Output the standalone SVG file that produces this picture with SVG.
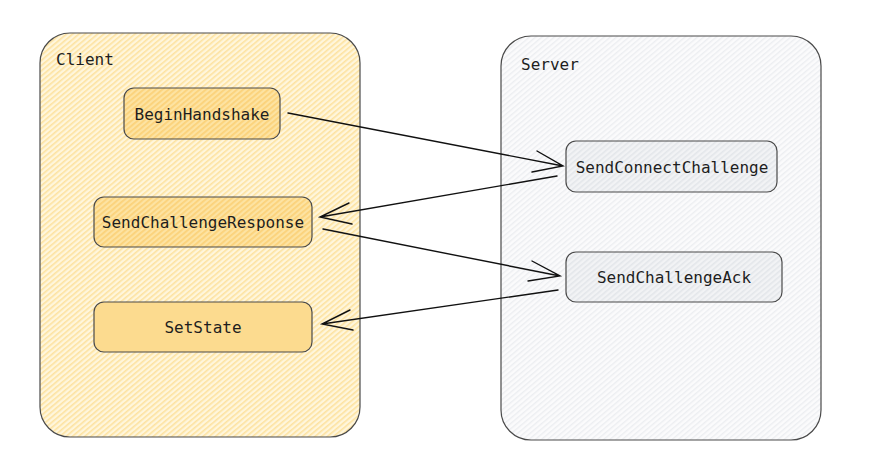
<svg xmlns="http://www.w3.org/2000/svg" width="872" height="470" viewBox="0 0 872 470">
<defs>
<pattern id="hY" width="4" height="4" patternUnits="userSpaceOnUse" patternTransform="rotate(-40)">
<rect width="4" height="4" fill="#fff6dc"/>
<rect width="4" height="1.6" fill="#fde2a0"/>
</pattern>
<pattern id="hY2" width="4" height="4" patternUnits="userSpaceOnUse" patternTransform="rotate(-40)">
<rect width="4" height="4" fill="#fde3a2"/>
<rect width="4" height="1.8" fill="#fbd27a"/>
</pattern>
<pattern id="hG" width="4" height="4" patternUnits="userSpaceOnUse" patternTransform="rotate(-40)">
<rect width="4" height="4" fill="#fbfbfc"/>
<rect width="4" height="1.4" fill="#eceef1"/>
</pattern>
<pattern id="hG2" width="4" height="4" patternUnits="userSpaceOnUse" patternTransform="rotate(-40)">
<rect width="4" height="4" fill="#f2f3f5"/>
<rect width="4" height="1.6" fill="#e3e6ea"/>
</pattern>
</defs>
<style>
.t{font-family:"DejaVu Sans Mono","Liberation Mono",monospace;font-size:16px;fill:#1e1e1e}
.c{text-anchor:middle;dominant-baseline:central}
.b{stroke:#4a4a4a;stroke-width:1.2}
.a{fill:none;stroke:#111;stroke-width:1.4;stroke-linecap:round}
</style>
<rect width="872" height="470" fill="#fff"/>
<g id="client">
<rect class="b" x="40" y="33" width="320" height="404" rx="30" fill="url(#hY)"/>
<text class="t" x="56" y="65">Client</text>
</g>
<g id="server">
<rect class="b" x="501" y="36" width="320" height="404" rx="30" fill="url(#hG)"/>
<text class="t" x="521" y="70">Server</text>
</g>
<g id="beginHandshake">
<rect class="b" x="124" y="88" width="156" height="51" rx="10" fill="url(#hY2)"/>
<text class="t c" x="202" y="114">BeginHandshake</text>
</g>
<g id="sendChallengeResponse">
<rect class="b" x="94" y="197" width="218" height="50" rx="10" fill="url(#hY2)"/>
<text class="t c" x="203" y="222">SendChallengeResponse</text>
</g>
<g id="setState">
<rect class="b" x="94" y="302" width="218" height="50" rx="10" fill="#fcdb8f"/>
<text class="t c" x="203" y="327">SetState</text>
</g>
<g id="sendConnectChallenge">
<rect class="b" x="566" y="141" width="211" height="51" rx="10" fill="url(#hG2)"/>
<text class="t c" x="672" y="167">SendConnectChallenge</text>
</g>
<g id="sendChallengeAck">
<rect class="b" x="566" y="252" width="216" height="50" rx="10" fill="url(#hG2)"/>
<text class="t c" x="674" y="277">SendChallengeAck</text>
</g>
<g id="connectors">
<path class="a" d="M288,113 L563,166 M537,151 L563,166 L532,172"/>
<path class="a" d="M557,176 L320,217 M349,203 L320,217 L352,224"/>
<path class="a" d="M323,229 L560,276 M532,261 L560,276 L528,281"/>
<path class="a" d="M558,290 L322,324 M350,310 L322,324 L353,330"/>
</g>
</svg>
